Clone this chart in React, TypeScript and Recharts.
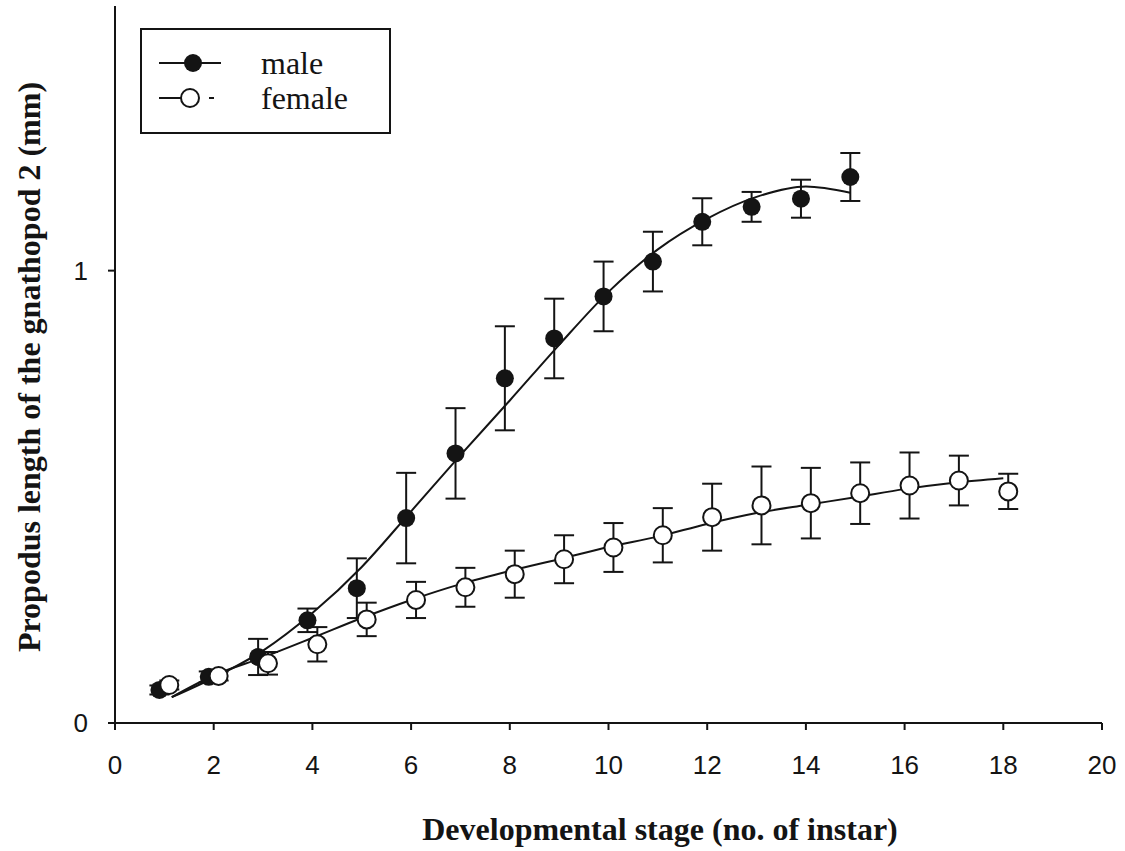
import {
  ComposedChart,
  Scatter,
  Line,
  XAxis,
  YAxis,
  ErrorBar,
} from "recharts"

// stage offsets: males plotted slightly left, females slightly right
const maleStage = [0.9, 1.9, 2.9, 3.9, 4.9, 5.9, 6.9, 7.9, 8.9, 9.9, 10.9, 11.9, 12.9, 13.9, 14.9]
const maleMean = [0.073, 0.102, 0.146, 0.227, 0.298, 0.453, 0.596, 0.762, 0.85, 0.943, 1.02, 1.108, 1.141, 1.159, 1.207]
const maleSE = [0.01, 0.012, 0.04, 0.026, 0.066, 0.1, 0.1, 0.115, 0.088, 0.077, 0.066, 0.052, 0.033, 0.042, 0.053]

const femaleStage = [1.1, 2.1, 3.1, 4.1, 5.1, 6.1, 7.1, 8.1, 9.1, 10.1, 11.1, 12.1, 13.1, 14.1, 15.1, 16.1, 17.1, 18.1]
const femaleMean = [0.084, 0.104, 0.132, 0.174, 0.229, 0.272, 0.3, 0.329, 0.362, 0.388, 0.415, 0.455, 0.481, 0.486, 0.508, 0.525, 0.536, 0.512]
const femaleSE = [0.01, 0.01, 0.025, 0.038, 0.037, 0.04, 0.043, 0.052, 0.053, 0.054, 0.06, 0.074, 0.086, 0.078, 0.068, 0.073, 0.055, 0.039]

// fitted curves
const maleFitStage = [1.15, 2, 3, 4, 5, 6, 7, 8, 9, 10, 11, 12, 13, 14, 14.9]
const maleFitLen = [0.057, 0.1, 0.16, 0.243, 0.345, 0.468, 0.592, 0.713, 0.836, 0.953, 1.047, 1.115, 1.163, 1.186, 1.172]
const femaleFitStage = [1.15, 2, 3, 4, 5, 6, 7, 8, 9, 10, 11, 12, 13, 14, 15, 16, 17, 18]
const femaleFitLen = [0.057, 0.105, 0.145, 0.188, 0.232, 0.272, 0.307, 0.336, 0.362, 0.389, 0.412, 0.44, 0.464, 0.482, 0.499, 0.517, 0.531, 0.541]

const xTicks = [0, 2, 4, 6, 8, 10, 12, 14, 16, 18, 20]
const yTicks = [0, 1]

const pts = (xs: number[], ys: number[], es: number[]) =>
  xs.map((x, i) => ({ x, y: ys[i], err: es[i] }))
const curve = (xs: number[], ys: number[]) => xs.map((x, i) => ({ x, y: ys[i] }))

const maleData = pts(maleStage, maleMean, maleSE)
const femaleData = pts(femaleStage, femaleMean, femaleSE)
const maleCurve = curve(maleFitStage, maleFitLen)
const femaleCurve = curve(femaleFitStage, femaleFitLen)

const INK = "#141414"
const SERIF = "'Liberation Serif', 'Times New Roman', serif"
const SANS = "'Liberation Sans', Arial, sans-serif"

const Filled = (p: any) => <circle cx={p.cx} cy={p.cy} r={9} fill={INK} />
const Hollow = (p: any) => (
  <circle cx={p.cx} cy={p.cy} r={9} fill="#fff" stroke={INK} strokeWidth={2} />
)

const LegendBox = () => (
  <svg
    width={252}
    height={107}
    style={{ position: "absolute", left: 140, top: 28, display: "block" }}
  >
    <rect x={1} y={1} width={249} height={104} fill="#fff" stroke={INK} strokeWidth={2} />
    <line x1={19} x2={81} y1={35} y2={35} stroke={INK} strokeWidth={2} />
    <circle cx={53} cy={35} r={9} fill={INK} />
    <text x={121} y={46} fontFamily={SERIF} fontSize={32} fill={INK}>male</text>
    <line x1={19} x2={42} y1={70} y2={70} stroke={INK} strokeWidth={2} />
    <circle cx={50} cy={70} r={9} fill="#fff" stroke={INK} strokeWidth={2} />
    <line x1={69} x2={74} y1={70} y2={70} stroke={INK} strokeWidth={2} />
    <text x={121} y={81} fontFamily={SERIF} fontSize={32} fill={INK}>female</text>
  </svg>
)

const YTitle = () => (
  <text
    x={29}
    y={367}
    transform="rotate(-90 29 367)"
    textAnchor="middle"
    dominantBaseline="central"
    fontFamily={SERIF}
    fontWeight="bold"
    fontSize={32}
    fill={INK}
  >
    Propodus length of the gnathopod 2 (mm)
  </text>
)

const XTitle = () => (
  <text
    x={660}
    y={829}
    textAnchor="middle"
    dominantBaseline="central"
    fontFamily={SERIF}
    fontWeight="bold"
    fontSize={32}
    fill={INK}
  >
    Developmental stage (no. of instar)
  </text>
)

export default function App() {
  return (
    <div style={{ position: "absolute", left: 0, top: 0, width: 1125, height: 851, background: "#fff" }}>
      <ComposedChart
        width={1125}
        height={851}
        margin={{ top: 6, right: 23, bottom: 68, left: 55 }}
      >
        <XAxis
          dataKey="x"
          type="number"
          domain={[0, 20]}
          ticks={xTicks}
          interval={0}
          allowDataOverflow
          height={60}
          stroke={INK}
          strokeWidth={2}
          tickSize={7}
          tickMargin={26}
          tick={{ fontFamily: SANS, fontSize: 26, fill: INK }}
          label={<XTitle />}
        />
        <XAxis xAxisId="top" orientation="top" type="number" domain={[0, 20]} height={0} tick={false} tickLine={false} stroke={INK} strokeWidth={2} />
        <YAxis
          type="number"
          domain={[0, 1.585]}
          ticks={yTicks}
          interval={0}
          allowDataOverflow
          width={60}
          stroke={INK}
          strokeWidth={2}
          tickSize={7}
          tickMargin={20}
          tick={{ fontFamily: SANS, fontSize: 26, fill: INK }}
          label={<YTitle />}
        />
        <YAxis yAxisId="right" orientation="right" type="number" domain={[0, 1.585]} width={0} tick={false} tickLine={false} stroke={INK} strokeWidth={2} />
        <Line data={maleCurve} dataKey="y" type="monotone" stroke={INK} strokeWidth={2} dot={false} activeDot={false} isAnimationActive={false} legendType="none" />
        <Line data={femaleCurve} dataKey="y" type="monotone" stroke={INK} strokeWidth={2} dot={false} activeDot={false} isAnimationActive={false} legendType="none" />
        <Scatter name="male" data={maleData} dataKey="y" shape={Filled} isAnimationActive={false}>
          <ErrorBar dataKey="err" direction="y" width={10} stroke={INK} strokeWidth={2} />
        </Scatter>
        <Scatter name="female" data={femaleData} dataKey="y" shape={Hollow} isAnimationActive={false}>
          <ErrorBar dataKey="err" direction="y" width={10} stroke={INK} strokeWidth={2} />
        </Scatter>
      </ComposedChart>
      <LegendBox />
    </div>
  )
}
